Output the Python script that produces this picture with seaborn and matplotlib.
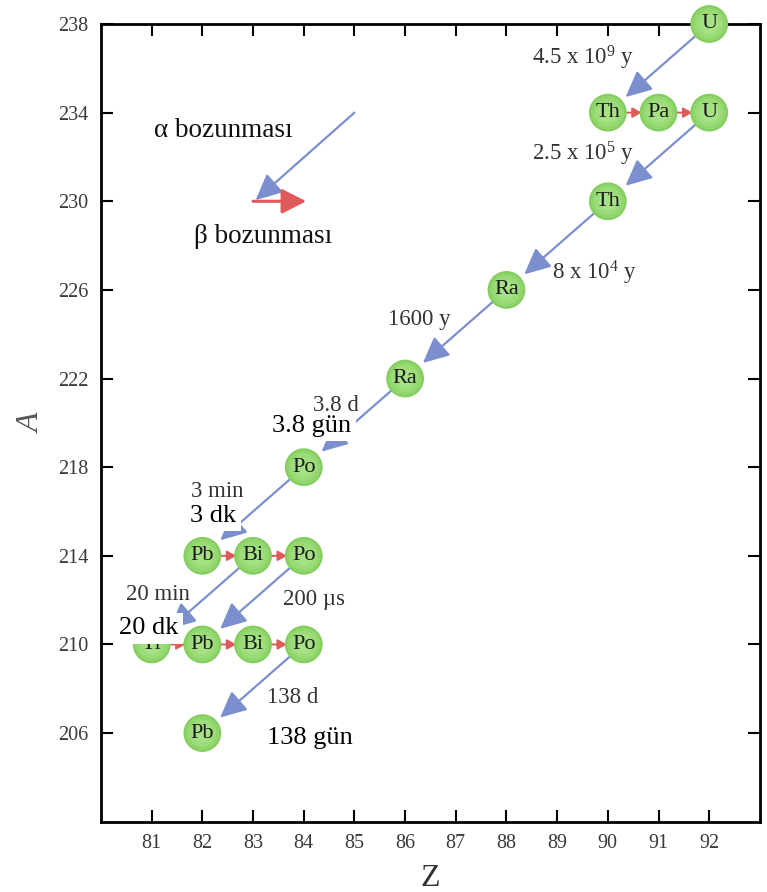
import numpy as np
import pandas as pd
import matplotlib
matplotlib.use("Agg")
import matplotlib.pyplot as plt
import seaborn as sns

# nuclides of the U-238 chain (as labelled in the picture)
symbols = ["U", "Th", "Pa", "U", "Th", "Ra", "Ra", "Po", "Pb", "Bi", "Po",
           "Tl", "Pb", "Bi", "Po", "Pb"]
z_vals = [92, 90, 91, 92, 90, 88, 86, 84, 82, 83, 84, 81, 82, 83, 84, 82]
a_vals = [238, 234, 234, 234, 230, 226, 222, 218, 214, 214, 214, 210, 210, 210, 210, 206]

# decays, as index pairs into the lists above
alpha_from = [0, 3, 4, 5, 6, 7, 9, 10, 14]
alpha_to = [1, 4, 5, 6, 7, 8, 11, 12, 15]
beta_from = [1, 2, 8, 9, 11, 12, 13]
beta_to = [2, 3, 9, 10, 12, 13, 14]

# half-life labels of the original figure
hl_text = ["4.5 x 10$^9$ y", "2.5 x 10$^5$ y", "8 x 10$^4$ y", "1600 y", "3.8 d",
           "3 min", "20 min", "200 \u00b5s", "138 d"]
hl_z = [89.51, 89.51, 89.74, 86.29, 84.63, 82.29, 81.12, 84.2, 83.78]
hl_a = [236.15, 231.86, 226.45, 224.42, 220.54, 216.67, 212.0, 211.78, 207.35]

# turkish labels pasted over the figure
tr_text = ["3.8 g\u00fcn", "3 dk", "20 dk", "138 g\u00fcn"]
tr_z = [84.16, 82.22, 80.94, 84.13]
tr_a = [219.59, 215.54, 210.45, 205.51]

# legend arrows
legend_alpha = [(85, 234), (83.05, 230.05)]
legend_beta = [(83, 230), (84.05, 230)]

x_ticks = list(range(81, 93))
y_ticks = list(range(206, 239, 4))

df = pd.DataFrame({"Z": z_vals, "A": a_vals, "sym": symbols})

sns.set_theme(style="ticks")
plt.rcParams["font.family"] = ["Liberation Serif", "DejaVu Serif"]
plt.rcParams["mathtext.fontset"] = "custom"
plt.rcParams["mathtext.rm"] = "Liberation Serif"
plt.rcParams["mathtext.it"] = "Liberation Serif:italic"

fig = plt.figure(figsize=(7.67, 8.92), dpi=100)
ax = fig.add_axes([0.1317, 0.0788, 0.859, 0.8943])
ax.set_xlim(80, 93)
ax.set_ylim(202, 238)

blue = "#7b8fcf"
red = "#e05a5a"

# alpha decays
for i, j in zip(alpha_from, alpha_to):
    ax.annotate("", xy=(z_vals[j], a_vals[j]), xytext=(z_vals[i], a_vals[i]),
                arrowprops=dict(arrowstyle="-|>,head_length=0.8,head_width=0.38",
                                color=blue, lw=1.6, mutation_scale=20,
                                shrinkA=0, shrinkB=17),
                zorder=2, annotation_clip=False)

# beta decays
for i, j in zip(beta_from, beta_to):
    ax.annotate("", xy=(z_vals[j], a_vals[j]), xytext=(z_vals[i], a_vals[i]),
                arrowprops=dict(arrowstyle="-|>,head_length=0.55,head_width=0.3",
                                color=red, lw=1.4, mutation_scale=10,
                                shrinkA=13, shrinkB=12),
                zorder=2)

# circles, a few layers to fake the gradient
greens = ["#84ce60", "#90d66c", "#9bdc78", "#a6e285"]
sizes = [740, 580, 400, 190]
for c, s in zip(greens, sizes):
    sns.scatterplot(data=df, x="Z", y="A", s=s, color=c, edgecolor="none",
                    linewidth=0, ax=ax, zorder=3, clip_on=False, legend=False)

for z, a, t in zip(z_vals, a_vals, symbols):
    ax.text(z, a, t, ha="center", va="center", fontsize=16, color="#1a1a1a",
            zorder=4, clip_on=False)

# legend
ax.annotate("", xy=legend_alpha[1], xytext=legend_alpha[0],
            arrowprops=dict(arrowstyle="-|>,head_length=0.8,head_width=0.38",
                            color=blue, lw=1.6, mutation_scale=20, shrinkA=0, shrinkB=0),
            zorder=2)
ax.annotate("", xy=legend_beta[1], xytext=legend_beta[0],
            arrowprops=dict(arrowstyle="-|>,head_length=0.75,head_width=0.38",
                            color=red, lw=2.2, mutation_scale=20, shrinkA=0, shrinkB=0),
            zorder=2)
ax.text(82.42, 232.92, "\u03b1 bozunmas\u0131", ha="center", va="baseline",
        fontsize=19.5, color="#111111")
ax.text(83.19, 228.13, "\u03b2 bozunmas\u0131", ha="center", va="baseline",
        fontsize=19.5, color="#111111")

# half-lives
for z, a, t in zip(hl_z, hl_a, hl_text):
    ax.text(z, a, t, ha="center", va="baseline", fontsize=16.5, color="#333333",
            zorder=5)

for z, a, t in zip(tr_z, tr_a, tr_text):
    ax.text(z, a, t, ha="center", va="baseline", fontsize=19, color="#000000",
            zorder=6, bbox=dict(facecolor="white", edgecolor="none", pad=3))

ax.set_xticks(x_ticks)
ax.set_yticks(y_ticks)
ax.tick_params(axis="both", which="major", direction="in", length=8.5, width=1.5,
               top=True, right=True, labelsize=14.5, labelcolor="#3a3a3a",
               color="black", pad=9)
for sp in ax.spines.values():
    sp.set_linewidth(2)
    sp.set_color("black")
    sp.set_visible(True)

ax.set_xlabel("Z", fontsize=23, color="#333333", labelpad=8)
ax.set_ylabel("A", fontsize=23, color="#555555", style="italic", labelpad=8)

fig.savefig("out.png", dpi=100)
